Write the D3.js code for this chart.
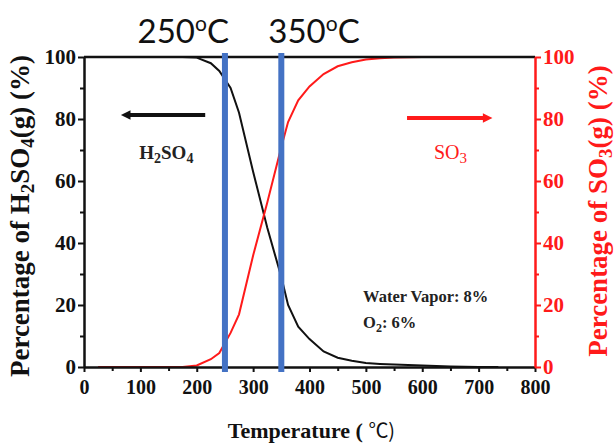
<!DOCTYPE html>
<html>
<head>
<meta charset="utf-8">
<script src="https://cdn.jsdelivr.net/npm/d3@7"></script>
<style>
  body { margin: 0; background: #fff; }
  svg { display: block; }
  .serif { font-family: "Liberation Serif", "Times New Roman", serif; }
</style>
</head>
<body>
<svg id="chart" width="616" height="443"></svg>
<script>
// temperatures (°C) where the curves were sampled
const temps = [25, 50, 100, 150, 175, 200, 225, 240, 260, 275, 300, 325, 350, 362, 380, 400, 425, 450, 475, 500, 525, 550, 600, 650, 700, 735];
// percentage of H2SO4(g)
const h2so4 = [100, 100, 100, 100, 100, 99.8, 98, 95.5, 90, 82, 63, 45, 29, 20, 13, 9, 5, 3, 2, 1.3, 1, 0.8, 0.5, 0.2, 0, 0];
// percentage of SO3(g)
const so3 = [0, 0, 0, 0, 0, 0.5, 2.5, 4.5, 11, 17, 36, 53, 71, 79, 86, 90.5, 94.5, 97, 98.3, 99.2, 99.6, 99.8, 100, 100, 100, 100];
const markTemps = [250, 350];
const markAnchors = ["end", "start"];
const xTicks = [0, 100, 200, 300, 400, 500, 600, 700, 800];
const yTicks = [0, 20, 40, 60, 80, 100];

const svg = d3.select("#chart");
const margin = { top: 57, right: 81, bottom: 76, left: 84 };
const width = 616 - margin.left - margin.right;
const height = 443 - margin.top - margin.bottom;

const x = d3.scaleLinear().domain([0, 800]).range([0, width]);
const y = d3.scaleLinear().domain([0, 100]).range([height, 0]);

const g = svg.append("g")
  .attr("transform", "translate(" + margin.left + "," + margin.top + ")");

const line = d3.line()
  .x(function (d) { return x(d[0]); })
  .y(function (d) { return y(d[1]); });

// curves
g.append("path")
  .datum(temps.map(function (t, i) { return [t, h2so4[i]]; }))
  .attr("fill", "none")
  .attr("stroke", "#111")
  .attr("stroke-width", 2)
  .attr("d", line);

g.append("path")
  .datum(temps.map(function (t, i) { return [t, so3[i]]; }))
  .attr("fill", "none")
  .attr("stroke", "#ff1a1a")
  .attr("stroke-width", 2)
  .attr("d", line);

// top frame line
g.append("line")
  .attr("x1", 0).attr("x2", width)
  .attr("y1", 0).attr("y2", 0)
  .attr("stroke", "#111").attr("stroke-width", 2.5);

// axes
function styleAxis(sel, color, size) {
  sel.select(".domain").attr("stroke", color).attr("stroke-width", 2.5);
  sel.selectAll(".tick line").attr("stroke", color).attr("stroke-width", 2);
  sel.selectAll(".tick text")
    .attr("fill", color)
    .attr("class", "serif")
    .attr("font-weight", "bold")
    .attr("font-size", size);
}

// minor ticks
g.append("g")
  .attr("transform", "translate(0," + height + ")")
  .call(d3.axisBottom(x).tickValues(d3.range(50, 800, 100)).tickSize(4).tickFormat(""))
  .call(function (s) { s.select(".domain").remove(); s.selectAll("line").attr("stroke", "#111").attr("stroke-width", 2); });
g.append("g")
  .call(d3.axisLeft(y).tickValues(d3.range(10, 100, 20)).tickSize(4).tickFormat(""))
  .call(function (s) { s.select(".domain").remove(); s.selectAll("line").attr("stroke", "#111").attr("stroke-width", 2); });
g.append("g")
  .attr("transform", "translate(" + width + ",0)")
  .call(d3.axisRight(y).tickValues(d3.range(10, 100, 20)).tickSize(4).tickFormat(""))
  .call(function (s) { s.select(".domain").remove(); s.selectAll("line").attr("stroke", "#ff1a1a").attr("stroke-width", 2); });

g.append("g")
  .attr("transform", "translate(0," + height + ")")
  .call(d3.axisBottom(x).tickValues(xTicks).tickSize(5).tickSizeOuter(0).tickPadding(8))
  .call(function (s) { styleAxis(s, "#111", 20); });

g.append("g")
  .call(d3.axisLeft(y).tickValues(yTicks).tickSize(6).tickSizeOuter(0).tickPadding(2))
  .call(function (s) { styleAxis(s, "#111", 21); });

g.append("g")
  .attr("transform", "translate(" + width + ",0)")
  .call(d3.axisRight(y).tickValues(yTicks).tickSize(6).tickSizeOuter(0).tickPadding(2))
  .call(function (s) { styleAxis(s, "#ff1a1a", 21); });

// blue marker lines
g.selectAll(".mark")
  .data(markTemps)
  .enter().append("line")
  .attr("class", "mark")
  .attr("x1", function (d) { return x(d); })
  .attr("x2", function (d) { return x(d); })
  .attr("y1", -4)
  .attr("y2", height + 5)
  .attr("stroke", "#4472c4")
  .attr("stroke-width", 6);

g.selectAll(".markLabel")
  .data(markTemps)
  .enter().append("text")
  .attr("x", function (d, i) { return x(d) + (i === 0 ? 4 : -13); })
  .attr("y", -14)
  .attr("text-anchor", function (d, i) { return markAnchors[i]; })
  .attr("font-family", "Lato, 'Open Sans', sans-serif")
  .attr("font-size", 33)
  .attr("fill", "#111")
  .html(function (d) { return d + "<tspan font-size='21' dy='-12'>o</tspan><tspan dy='12'>C</tspan>"; });

// arrows
const defs = svg.append("defs");
[["blk", "#111"], ["red", "#ff1a1a"]].forEach(function (m) {
  defs.append("marker")
    .attr("id", "arrow-" + m[0])
    .attr("viewBox", "0 0 10 10")
    .attr("refX", 5).attr("refY", 5)
    .attr("markerWidth", 3.2).attr("markerHeight", 2.4)
    .attr("orient", "auto")
    .append("path")
    .attr("d", "M0,0 L10,5 L0,10 z")
    .attr("fill", m[1]);
});

g.append("line")
  .attr("x1", x(215)).attr("x2", x(74))
  .attr("y1", y(81.3)).attr("y2", y(81.3))
  .attr("stroke", "#111").attr("stroke-width", 4)
  .attr("marker-end", "url(#arrow-blk)");

g.append("line")
  .attr("x1", x(573)).attr("x2", x(716))
  .attr("y1", y(80.3)).attr("y2", y(80.3))
  .attr("stroke", "#ff1a1a").attr("stroke-width", 4)
  .attr("marker-end", "url(#arrow-red)");

g.append("text")
  .attr("class", "serif")
  .attr("x", x(146)).attr("y", y(67))
  .attr("text-anchor", "middle")
  .attr("font-size", 19).attr("font-weight", "bold").attr("fill", "#222")
  .html("H<tspan font-size='14' dy='4'>2</tspan><tspan dy='-4'>SO</tspan><tspan font-size='14' dy='4'>4</tspan>");

g.append("text")
  .attr("class", "serif")
  .attr("x", x(650)).attr("y", y(67))
  .attr("text-anchor", "middle")
  .attr("font-size", 20).attr("fill", "#ff1a1a")
  .html("SO<tspan font-size='15' dy='4'>3</tspan>");

g.append("text")
  .attr("class", "serif")
  .attr("x", x(495)).attr("y", y(21))
  .attr("font-size", 16.5).attr("font-weight", "bold").attr("fill", "#222")
  .text("Water Vapor: 8%");

g.append("text")
  .attr("class", "serif")
  .attr("x", x(495)).attr("y", y(12.5))
  .attr("font-size", 16.5).attr("font-weight", "bold").attr("fill", "#222")
  .html("O<tspan font-size='12' dy='4'>2</tspan><tspan dy='-4'>: 6%</tspan>");

// axis titles
svg.append("text")
  .attr("class", "serif")
  .attr("transform", "translate(29," + (margin.top + height / 2 + 4) + ") rotate(-90)")
  .attr("text-anchor", "middle")
  .attr("font-size", 27).attr("font-weight", "bold").attr("fill", "#111")
  .html("Percentage of H<tspan font-size='19' dy='5'>2</tspan><tspan dy='-5'>SO</tspan><tspan font-size='19' dy='5'>4</tspan><tspan dy='-5'>(g) (%)</tspan>");

svg.append("text")
  .attr("class", "serif")
  .attr("transform", "translate(607," + (margin.top + height / 2 - 1) + ") rotate(-90)")
  .attr("text-anchor", "middle")
  .attr("font-size", 27).attr("font-weight", "bold").attr("fill", "#ff1a1a")
  .html("Percentage of SO<tspan font-size='19' dy='5'>3</tspan><tspan dy='-5'>(g) (%)</tspan>");

svg.append("text")
  .attr("x", margin.left + width / 2 + 2)
  .attr("y", 438)
  .attr("text-anchor", "middle")
  .attr("fill", "#111")
  .html("<tspan class='serif' font-size='22' font-weight='bold'>Temperature ( </tspan><tspan font-family='Noto Sans CJK SC' font-size='20'>℃)</tspan>");
</script>
</body>
</html>
